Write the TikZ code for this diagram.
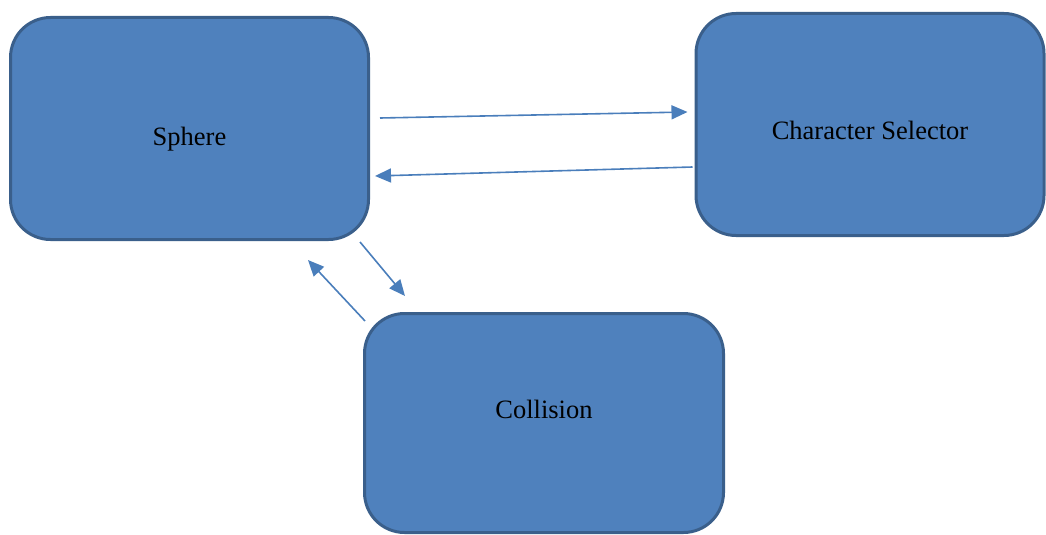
\documentclass[tikz,border=0pt]{standalone}
\usepackage{fontspec}
\setmainfont{Liberation Serif}
\usetikzlibrary{arrows.meta,calc}
\definecolor{boxfill}{HTML}{4F81BD}
\definecolor{boxline}{HTML}{3A5F8B}
\definecolor{arrcol}{HTML}{4A7EBB}
\tikzset{
  blockbox/.style={draw=boxline, fill=boxfill, line width=3pt, rounded corners=40pt,
    inner sep=0pt, font=\fontsize{26.5}{30}\selectfont, text=black},
  arr/.style={draw=arrcol, line width=1.6pt, -{Triangle[length=16pt,width=14pt]}}
}
\begin{document}
\begin{tikzpicture}[x=1pt,y=-1pt]
\useasboundingbox (0,0) rectangle (1046,535);
\node[blockbox, minimum width=358pt, minimum height=222pt] (sphere) at (189.5,128.5) {\raisebox{-17pt}[0pt][0pt]{Sphere}};
\node[blockbox, minimum width=348pt, minimum height=222pt] (charsel) at (870,124.5) {\raisebox{-15pt}[0pt][0pt]{Character Selector}};
\node[blockbox, minimum width=359pt, minimum height=219pt] (collision) at (544,423) {\raisebox{4.5pt}[0pt][0pt]{Collision}};
\draw[arr] ([shift={(10,-10.5)}]sphere.east) -- ([shift={(-7,-12.5)}]charsel.west);
\draw[arr] ([shift={(-2,42.5)}]charsel.west) -- ([shift={(5,47.5)}]sphere.east);
\draw[arr] ([shift={(-10,1)}]sphere.south east) -- ([shift={(42,-16)}]collision.north west);
\draw[arr] ([shift={(2,9)}]collision.north west) -- ([shift={(-62,19)}]sphere.south east);
\end{tikzpicture}
\end{document}
